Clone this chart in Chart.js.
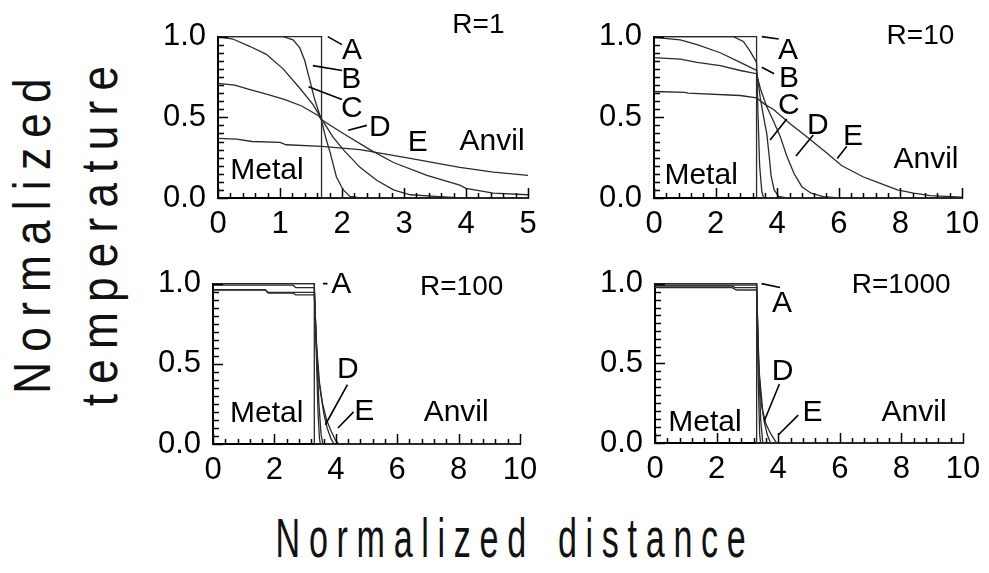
<!DOCTYPE html>
<html>
<head>
<meta charset="utf-8">
<title>Normalized temperature profiles</title>
<script src="https://cdn.jsdelivr.net/npm/chart.js@4.4.1/dist/chart.umd.min.js"></script>
<style>
  html, body { margin: 0; padding: 0; background: #fff; }
  #page { position: relative; width: 989px; height: 573px; overflow: hidden;
          font-family: "Liberation Sans", Arial, sans-serif; }
  #page canvas { position: absolute; }
  .title { position: absolute; white-space: nowrap; line-height: 1; color: #111; }
  #yTitle1, #yTitle2 { font-size: 52px; letter-spacing: 12px; }
  #yTitle1 { left: 32px; top: 231px; transform: translate(-50%, -50%) rotate(-90deg) scaleX(0.85); }
  #yTitle2 { left: 99px; top: 231px; transform: translate(-50%, -50%) rotate(-90deg) scaleX(0.85); }
  #xTitle { left: 515px; top: 538px; font-size: 55px; letter-spacing: 14px; word-spacing: 8px;
            transform: translate(-50%, -50%) scaleX(0.62); }
</style>
</head>
<body>
<div id="page">
  <div class="title" id="yTitle1">Normalized</div>
  <div class="title" id="yTitle2">temperature</div>
  <div class="title" id="xTitle">Normalized distance</div>
</div>
<script>
// profiles as [distance, temperature] pairs; A is the starting step, B..E later times

// R = 1
const r1A = [[0, 1], [1.67, 1], [1.67, 0], [5, 0]];
const r1B = [[0, 1], [1.05, 1], [1.21, 0.98], [1.32, 0.93], [1.4, 0.85], [1.48, 0.73], [1.56, 0.61], [1.67, 0.48],
             [1.74, 0.37], [1.81, 0.28], [1.91, 0.13], [2.02, 0.05], [2.13, 0.01], [2.3, 0], [5, 0]];
const r1C = [[0, 1], [0.24, 0.985], [0.51, 0.94], [0.78, 0.89], [1.05, 0.8], [1.32, 0.68], [1.53, 0.58], [1.67, 0.49],
             [1.85, 0.38], [2.02, 0.3], [2.29, 0.19], [2.56, 0.11], [2.83, 0.05], [3.1, 0.02], [3.5, 0.01], [3.8, 0.003], [5, 0]];
const r1D = [[0, 0.71], [0.27, 0.7], [0.53, 0.67], [0.81, 0.64], [1.08, 0.61], [1.35, 0.57], [1.62, 0.51], [1.67, 0.485],
             [2.02, 0.4], [2.45, 0.3], [2.83, 0.22], [3.37, 0.14], [3.9, 0.08], [4.0, 0.06], [4.44, 0.03], [5, 0.02]];
const r1E = [[0, 0.37], [0.3, 0.365], [0.55, 0.35], [1.0, 0.345], [1.1, 0.33], [1.67, 0.32], [2.29, 0.3],
             [3.1, 0.245], [3.9, 0.19], [4.44, 0.16], [5, 0.14]];

// R = 10
const r10A = [[0, 1], [3.33, 1], [3.33, 0], [10, 0]];
const r10B = [[0, 1], [2.58, 1], [2.9, 0.97], [3.12, 0.91], [3.33, 0.84], [3.38, 0.5], [3.43, 0.2], [3.5, 0.04], [3.56, 0], [10, 0]];
const r10C = [[0, 0.995], [0.85, 0.98], [1.4, 0.95], [2.15, 0.9], [2.8, 0.84], [3.33, 0.79], [3.45, 0.62], [3.58, 0.48],
              [3.66, 0.4], [3.74, 0.26], [3.8, 0.14], [3.9, 0.05], [4.05, 0.01], [4.3, 0], [10, 0]];
const r10D = [[0, 0.87], [0.85, 0.86], [1.4, 0.84], [2.15, 0.82], [2.8, 0.79], [3.33, 0.77], [3.45, 0.68], [3.65, 0.57],
              [3.87, 0.48], [4.1, 0.38], [4.31, 0.26], [4.55, 0.15], [4.8, 0.07], [5.1, 0.03], [5.5, 0.008], [6, 0], [10, 0]];
const r10E = [[0, 0.66], [1.0, 0.655], [1.1, 0.65], [2.8, 0.635], [3.33, 0.62], [3.6, 0.58], [3.87, 0.55], [4.42, 0.46],
              [4.96, 0.38], [5.6, 0.28], [6.1, 0.2], [6.8, 0.13], [7.35, 0.09], [7.9, 0.05], [8.43, 0.03], [8.97, 0.015], [10, 0.005]];

// R = 100
const r100A = [[0, 1], [3.3, 1], [3.3, 0], [10, 0]];
const r100B = [[0, 1], [3.3, 1], [3.36, 0.6], [3.42, 0.2], [3.47, 0.03], [3.5, 0], [10, 0]];
const r100C = [[0, 0.99], [2.6, 0.99], [2.7, 0.975], [3.3, 0.975], [3.37, 0.6], [3.45, 0.25], [3.52, 0.06], [3.58, 0], [10, 0]];
const r100D = [[0, 0.963], [1.7, 0.963], [1.8, 0.945], [3.3, 0.945], [3.36, 0.65], [3.43, 0.42], [3.52, 0.3], [3.62, 0.18],
               [3.72, 0.1], [3.85, 0.03], [3.95, 0], [10, 0]];
const r100E = [[0, 0.96], [1.7, 0.96], [1.8, 0.94], [2.6, 0.94], [2.7, 0.93], [3.3, 0.93], [3.38, 0.6], [3.47, 0.38],
               [3.57, 0.25], [3.7, 0.15], [3.85, 0.08], [4.0, 0.02], [4.1, 0], [10, 0]];

// R = 1000
const r1000A = [[0, 1], [3.3, 1], [3.3, 0], [10, 0]];
const r1000B = [[0, 1], [3.3, 1], [3.35, 0.4], [3.4, 0.05], [3.43, 0], [10, 0]];
const r1000C = [[0, 0.99], [3.3, 0.99], [3.36, 0.55], [3.43, 0.15], [3.5, 0], [10, 0]];
const r1000D = [[0, 0.985], [2.5, 0.985], [2.6, 0.975], [3.3, 0.975], [3.36, 0.5], [3.45, 0.25], [3.55, 0.13], [3.65, 0.05], [3.75, 0], [10, 0]];
const r1000E = [[0, 0.975], [2.5, 0.975], [2.65, 0.96], [3.3, 0.96], [3.38, 0.45], [3.5, 0.2], [3.6, 0.12], [3.75, 0.06], [3.95, 0], [10, 0]];

// tick labels
const yTicks = ['0.0', '0.5', '1.0'];

// labels and leader lines, in data units: [text, x, y, fontSize] and [x1, y1, x2, y2]
const notesR1 = {
  texts: [['R=1', 4.2, 1.07, 28], ['A', 2.16, 0.91], ['B', 2.15, 0.73], ['C', 2.16, 0.55], ['D', 2.61, 0.435],
          ['E', 3.22, 0.345], ['Anvil', 4.42, 0.35], ['Metal', 0.79, 0.17]],
  lines: [[1.77, 1.0, 2.0, 0.95], [1.53, 0.82, 2.0, 0.79], [1.46, 0.69, 2.0, 0.61], [2.1, 0.42, 2.4, 0.45]]
};
const notesR10 = {
  texts: [['R=10', 8.65, 1.0, 28], ['A', 4.35, 0.91], ['B', 4.38, 0.74], ['C', 4.38, 0.57], ['D', 5.32, 0.45],
          ['E', 6.46, 0.38], ['Anvil', 8.83, 0.24], ['Metal', 1.53, 0.14]],
  lines: [[3.5, 1.0, 4.05, 0.985], [3.5, 0.81, 3.9, 0.77], [3.77, 0.36, 4.31, 0.49], [4.61, 0.26, 5.17, 0.39], [5.95, 0.245, 6.26, 0.32]]
};
const notesR100 = {
  texts: [['R=100', 8.1, 0.975, 28], ['A', 4.18, 0.99], ['D', 4.39, 0.46], ['E', 4.93, 0.2], ['Metal', 1.75, 0.19], ['Anvil', 7.92, 0.195]],
  lines: [[3.58, 1.0, 3.73, 1.0], [4.38, 0.37, 3.66, 0.12], [4.58, 0.2, 4.07, 0.1]]
};
const notesR1000 = {
  texts: [['R=1000', 7.99, 0.99, 28], ['A', 4.12, 0.875], ['D', 4.14, 0.45], ['E', 5.11, 0.19], ['Metal', 1.62, 0.13], ['Anvil', 8.41, 0.19]],
  lines: [[3.46, 1.0, 4.06, 0.975], [4.04, 0.37, 3.55, 0.14], [4.65, 0.175, 4.0, 0.05]]
};

// plot-area boxes on the page
const panels = [
  { box: [218, 36, 310, 162], xMax: 5, xStep: 1, series: [r1A, r1B, r1C, r1D, r1E], notes: notesR1 },
  { box: [654, 36, 308, 162], xMax: 10, xStep: 2, series: [r10A, r10B, r10C, r10D, r10E], notes: notesR10 },
  { box: [213, 283, 307, 161], xMax: 10, xStep: 2, series: [r100A, r100B, r100C, r100D, r100E], notes: notesR100 },
  { box: [655, 283, 308, 160], xMax: 10, xStep: 2, series: [r1000A, r1000B, r1000C, r1000D, r1000E], notes: notesR1000 }
];

const FONT = '"Liberation Sans", Arial, sans-serif';
const Y_AXIS_W = 70, X_AXIS_H = 40, PAD_TOP = 30, PAD_RIGHT = 30;

// small inward ticks along both axes, five minor steps per x label, 0.05 on y
const axisMarks = {
  id: 'axisMarks',
  afterDraw(chart, args, opts) {
    const ctx = chart.ctx;
    const xs = chart.scales.x, ys = chart.scales.y;
    const x0 = xs.getPixelForValue(0), y0 = ys.getPixelForValue(0);
    ctx.save();
    ctx.strokeStyle = '#000';
    ctx.lineWidth = 1.5;
    ctx.beginPath();
    const minor = opts.xStep / 5;
    const nx = Math.round(xs.max / minor);
    for (let i = 0; i <= nx; i++) {
      const px = Math.round(xs.getPixelForValue(i * minor)) + 0.5;
      ctx.moveTo(px, y0);
      ctx.lineTo(px, y0 - (i % 5 === 0 ? 10 : 5));
    }
    for (let i = 0; i <= 20; i++) {
      const py = Math.round(ys.getPixelForValue(i * 0.05)) + 0.5;
      ctx.moveTo(x0, py);
      ctx.lineTo(x0 + (i % 10 === 0 ? 10 : 6), py);
    }
    ctx.stroke();
    ctx.restore();
  }
};

// panel captions and the leader lines pointing at the curves
const notes = {
  id: 'notes',
  afterDatasetsDraw(chart, args, opts) {
    const ctx = chart.ctx;
    const xs = chart.scales.x, ys = chart.scales.y;
    ctx.save();
    ctx.strokeStyle = '#000';
    ctx.lineWidth = 1.6;
    ctx.beginPath();
    opts.lines.forEach(([x1, y1, x2, y2]) => {
      ctx.moveTo(xs.getPixelForValue(x1), ys.getPixelForValue(y1));
      ctx.lineTo(xs.getPixelForValue(x2), ys.getPixelForValue(y2));
    });
    ctx.stroke();
    ctx.fillStyle = '#000';
    ctx.textAlign = 'center';
    ctx.textBaseline = 'middle';
    opts.texts.forEach(([t, x, y, size]) => {
      ctx.font = (size || 30) + 'px ' + FONT;
      ctx.fillText(t, xs.getPixelForValue(x), ys.getPixelForValue(y));
    });
    ctx.restore();
  }
};

const page = document.getElementById('page');

panels.forEach(p => {
  const [left, top, w, h] = p.box;
  const canvas = document.createElement('canvas');
  canvas.width = Y_AXIS_W + w + PAD_RIGHT;
  canvas.height = PAD_TOP + h + X_AXIS_H;
  canvas.style.left = (left - Y_AXIS_W) + 'px';
  canvas.style.top = (top - PAD_TOP) + 'px';
  page.appendChild(canvas);

  new Chart(canvas, {
    type: 'line',
    data: {
      datasets: p.series.map(pts => ({
        data: pts.map(([x, y]) => ({ x, y })),
        borderColor: '#2a2a2a',
        borderWidth: 1.3,
        pointRadius: 0,
        tension: 0,
        clip: false
      }))
    },
    options: {
      responsive: false,
      animation: false,
      devicePixelRatio: 1,
      layout: { padding: { top: PAD_TOP, right: PAD_RIGHT, left: 0, bottom: 0 } },
      plugins: {
        legend: { display: false },
        tooltip: { enabled: false },
        axisMarks: { xStep: p.xStep },
        notes: p.notes
      },
      scales: {
        x: {
          type: 'linear',
          min: 0,
          max: p.xMax,
          grid: { display: false, drawTicks: false },
          border: { display: true, color: '#000', width: 2 },
          ticks: { stepSize: p.xStep, padding: 8, color: '#000', font: { family: FONT, size: 31 } },
          afterFit: s => { s.height = X_AXIS_H; }
        },
        y: {
          min: 0,
          max: 1,
          grid: { display: false, drawTicks: false },
          border: { display: true, color: '#000', width: 2 },
          ticks: {
            stepSize: 0.5,
            padding: 12,
            color: '#000',
            font: { family: FONT, size: 31 },
            callback: v => yTicks[Math.round(v * 2)]
          },
          afterFit: s => { s.width = Y_AXIS_W; }
        }
      }
    },
    plugins: [axisMarks, notes]
  });
});
</script>
</body>
</html>
